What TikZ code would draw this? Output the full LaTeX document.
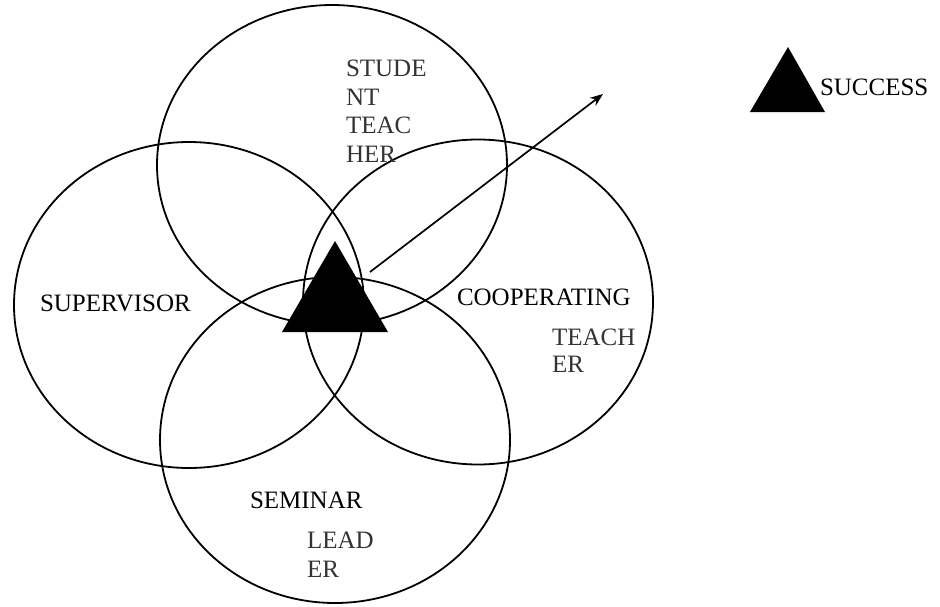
\documentclass[tikz,border=0pt]{standalone}
\usepackage{fontspec}
\setmainfont{Liberation Serif}
\usetikzlibrary{shapes.geometric,arrows.meta}
\begin{document}
\begin{tikzpicture}[x=1pt,y=-1pt,
  ring/.style={draw=black,line width=1.8pt,ellipse,inner sep=0pt,outer sep=0pt,minimum width=350pt},
  lbl/.style={anchor=base west,inner sep=0pt,outer sep=0pt,font=\fontsize{25}{29}\selectfont,text=black},
  glbl/.style={lbl,text=black!80},
  tri/.style={fill=black}]
\useasboundingbox (0,0) rectangle (940,606);
% circles
\node[ring,minimum height=320pt] (student) at (332,165) {};
\node[ring,minimum height=326pt] (supervisor) at (189,305) {};
\node[ring,minimum height=325pt] (cooperating) at (478,302) {};
\node[ring,minimum height=326pt] (seminar) at (335,440) {};
% labels
\node[glbl] (s1) at (346,76) {STUDE};
\node[glbl] (s2) at (346,105) {NT};
\node[glbl] (s3) at (346,133) {TEAC};
\node[glbl] (s4) at (346,162) {HER};
\node[lbl] (sup) at (40,311) {SUPERVISOR};
\node[lbl] (coop) at (457,305) {COOPERATING};
\node[glbl] (c2) at (552,345) {TEACH};
\node[glbl] (c3) at (552,372) {ER};
\node[lbl] (sem) at (250,508) {SEMINAR};
\node[glbl] (l1) at (307,548) {LEAD};
\node[glbl] (l2) at (307,577) {ER};
% central triangle
\coordinate (ta) at (282,332);
\coordinate (tb) at (388,332);
\coordinate (tc) at (335,241);
\fill[tri] (ta) -- (tb) -- (tc) -- cycle;
% arrow
\coordinate (arrstart) at (370,272);
\coordinate (arrend) at (603,94);
\draw[line width=1.7pt,-{Stealth[length=13pt,width=10pt]}] (arrstart) -- (arrend);
% legend
\coordinate (la) at (750,112);
\coordinate (lb) at (825,112);
\coordinate (lc) at (788,47);
\node[lbl] (succ) at (820,95) {SUCCESS};
\fill[tri] (la) -- (lb) -- (lc) -- cycle;
\end{tikzpicture}
\end{document}
